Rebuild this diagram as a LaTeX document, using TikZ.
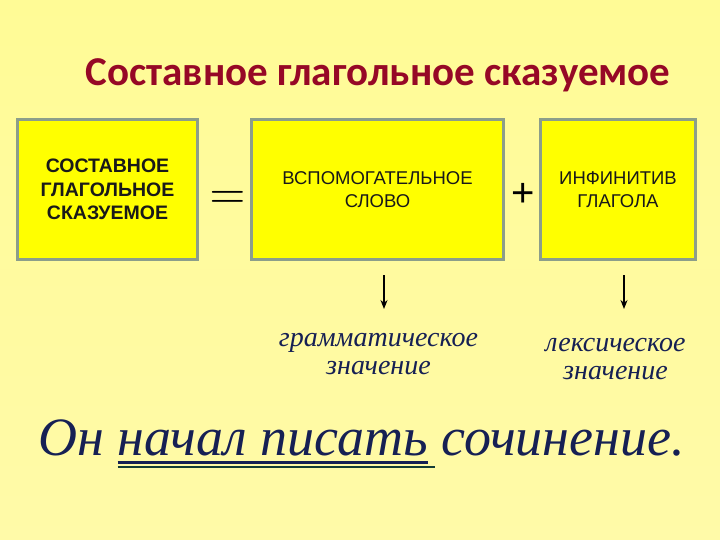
\documentclass[tikz,border=0pt]{standalone}
\usepackage{graphicx}
\usepackage{fontspec}
\setmainfont{Liberation Serif}
\setsansfont{Liberation Sans}
\newfontfamily\headfont{Carlito}
\usetikzlibrary{arrows.meta,positioning}

\definecolor{titlered}{RGB}{150,8,38}
\definecolor{inknavy}{RGB}{22,32,84}
\definecolor{inkgreen}{RGB}{20,60,55}
\definecolor{boxedge}{RGB}{140,158,138}
\definecolor{boxfill}{RGB}{255,255,0}
\definecolor{bgtop}{RGB}{255,251,150}
\definecolor{bgmid}{RGB}{255,255,238}
\definecolor{bgbot}{RGB}{255,250,168}

\tikzset{
  termbox/.style={draw=boxedge, line width=3pt, fill=boxfill, align=center,
    minimum height=140pt, inner sep=0pt, text=black!90,
    execute at begin node={\vspace*{5pt}},
    font=\sffamily\fontsize{18.5}{23.5}\selectfont},
  meaning/.style={align=center, text=inknavy, inner sep=0pt,
    font=\itshape\fontsize{28}{28.5}\selectfont},
  sentence/.style={text=inknavy, inner sep=0pt, anchor=base west,
    font=\itshape\fontsize{54}{60}\selectfont},
  downarrow/.style={-{Stealth[length=9pt,width=7pt]}, line width=1.4pt},
}

\begin{document}
\begin{tikzpicture}[x=1pt,y=-1pt]
  \useasboundingbox (0,0) rectangle (720,540);
  \shade[top color=bgtop, middle color=bgmid, bottom color=bgbot] (0,0) rectangle (720,540);

  % title
  \node[anchor=base, text=titlered, font=\headfont\bfseries\fontsize{41}{46}\selectfont]
    (title) at (378,86) {Составное глагольное сказуемое};

  % the three boxes
  \node[termbox, minimum width=180pt, font=\sffamily\bfseries\fontsize{19.5}{23.5}\selectfont]
    (predicate) at (107.5,189.5) {СОСТАВНОЕ\\ГЛАГОЛЬНОЕ\\СКАЗУЕМОЕ};
  \node[termbox, minimum width=252pt] (auxword) at (377.5,189.5) {ВСПОМОГАТЕЛЬНОЕ\\СЛОВО};
  \node[termbox, minimum width=155pt] (infinitive) at (618,189.5) {ИНФИНИТИВ\\ГЛАГОЛА};

  % signs between the boxes
  \node[anchor=base, inner sep=0pt] (equals) at (227.5,208) {\scalebox{4.65}{$=$}};
  \node[anchor=base, font=\sffamily\fontsize{40}{40}\selectfont] (plus) at (523.5,207) {+};

  % meanings
  \node[meaning] (grammean) at (378.5,354) {грамматическое\\значение};
  \node[meaning] (lexmean) at (615.5,359) {лексическое\\значение};
  \coordinate (gtip) at (384,309);
  \coordinate (ltip) at (624,309);
  \draw[downarrow] ([yshift=-14pt]auxword.south -| gtip) -- (gtip);
  \draw[downarrow] ([yshift=-14pt]infinitive.south -| ltip) -- (ltip);

  % example sentence
  \node[sentence] (subject) at (38,455) {Он};
  \node[sentence, base right=13.5pt of subject] (verbs) {начал писать};
  \node[sentence, base right=13.5pt of verbs] (object) {сочинение.};
  \draw[inknavy, line width=3pt] ([yshift=-7pt]verbs.base west) -- ([yshift=-7pt]verbs.base east);
  \draw[inkgreen, line width=1.5pt] ([yshift=-12pt]verbs.base west) -- ([yshift=-12pt,xshift=7pt]verbs.base east);
\end{tikzpicture}
\end{document}
